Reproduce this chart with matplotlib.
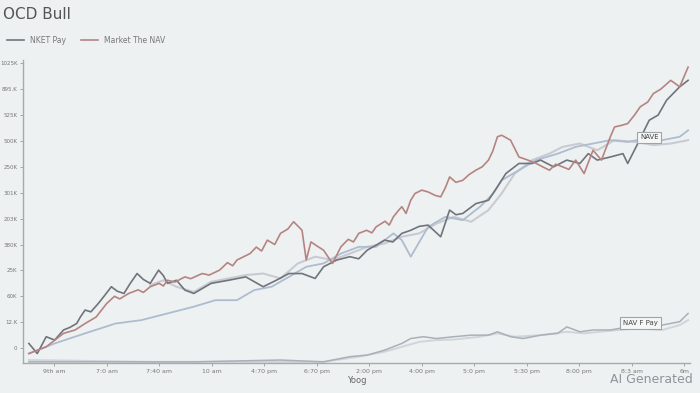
import matplotlib.pyplot as plt

# 축 눈금 라벨
x_tick_labels = ['9th am', '7:0 am', '7:40 am', '10 am', '4:70 pm', '6:70 pm', '2:00 pm',
                 '4:00 pm', '5:0 pm', '5:30 pm', '8:00 pm', '8:3 am', '6m']
y_tick_values = [0, 100, 200, 300, 400, 500, 600, 700, 800, 900, 1000, 1100]
y_tick_labels = ['0', '12.K', '60K', '25K', '380K', '203K', '301K', '250K', '500K', '525K', '895.K', '1025K']

# Market The NAV (red)
market_t = [-0.48, -0.15, 0.18, 0.40, 0.59, 0.80, 1.00, 1.15, 1.25, 1.42, 1.60, 1.70, 1.83, 2.00,
            2.08, 2.16, 2.30, 2.49, 2.60, 2.82, 2.95, 3.15, 3.30, 3.40, 3.48, 3.60, 3.73, 3.85,
            3.95, 4.06, 4.20, 4.31, 4.45, 4.56, 4.72, 4.80, 4.89, 5.00, 5.13, 5.30, 5.46, 5.60,
            5.70, 5.80, 5.95, 6.05, 6.13, 6.30, 6.38, 6.46, 6.55, 6.62, 6.70, 6.79, 6.87, 7.00,
            7.12, 7.25, 7.36, 7.45, 7.53, 7.65, 7.78, 7.90, 8.03, 8.15, 8.27, 8.35, 8.44, 8.52,
            8.69, 8.85, 9.02, 9.18, 9.30, 9.43, 9.55, 9.68, 9.80, 9.93, 10.09, 10.26, 10.42,
            10.59, 10.67, 10.80, 10.92, 11.05, 11.16, 11.30, 11.41, 11.55, 11.74, 11.91, 12.07]
market_v = [-21, 5, 57, 70, 95, 120, 172, 200, 190, 211, 225, 215, 237, 250,
            240, 262, 255, 275, 268, 288, 282, 301, 330, 318, 340, 352, 365, 390,
            375, 417, 400, 443, 460, 488, 455, 340, 410, 395, 378, 327, 391, 420,
            410, 443, 455, 445, 468, 490, 475, 507, 530, 546, 520, 571, 597, 610,
            603, 590, 584, 620, 661, 640, 648, 670, 687, 700, 726, 760, 816, 822,
            803, 738, 726, 713, 700, 687, 710, 700, 690, 726, 674, 764, 726,
            816, 854, 860, 867, 900, 932, 950, 983, 1000, 1034, 1009, 1085]

# NKET Pay (dark grey)
nket_t = [-0.48, -0.32, -0.15, 0.01, 0.18, 0.30, 0.43, 0.50, 0.59, 0.70, 0.84, 0.95, 1.09, 1.20,
          1.33, 1.45, 1.58, 1.70, 1.83, 1.99, 2.08, 2.16, 2.33, 2.49, 2.66, 2.99, 3.32, 3.65,
          3.98, 4.23, 4.47, 4.72, 4.97, 5.13, 5.38, 5.63, 5.80, 5.96, 6.15, 6.29, 6.45, 6.62,
          6.79, 6.95, 7.12, 7.36, 7.53, 7.65, 7.78, 8.03, 8.27, 8.44, 8.60, 8.85, 9.10,
          9.26, 9.51, 9.76, 10.01, 10.17, 10.34, 10.59, 10.83, 10.92, 11.08, 11.33, 11.50,
          11.66, 11.91, 12.07]
nket_v = [18, -21, 44, 31, 70, 80, 95, 120, 147, 140, 172, 200, 237, 220,
          211, 250, 288, 265, 250, 301, 280, 250, 262, 224, 211, 250, 262, 275,
          237, 262, 288, 288, 269, 314, 340, 353, 345, 378, 400, 417, 410, 443,
          455, 470, 475, 430, 533, 515, 520, 558, 571, 623, 674, 713, 713,
          726, 700, 726, 713, 751, 726, 738, 751, 713, 777, 880, 900,
          957, 1009, 1034]

# 연한 파란 선
blue_t = [-0.48, 0.01, 0.59, 1.17, 1.66, 2.16, 2.66, 3.07, 3.48, 3.81, 4.14, 4.47, 4.80, 5.13,
          5.46, 5.80, 6.13, 6.46, 6.62, 6.79, 7.12, 7.45, 7.78, 8.11, 8.36, 8.52, 8.85, 9.18,
          9.59, 9.93, 10.26, 10.59, 10.92, 11.25, 11.58, 11.91, 12.07]
blue_v = [-21, 18, 57, 95, 108, 134, 160, 185, 185, 224, 237, 275, 314, 327,
          365, 391, 391, 443, 417, 353, 468, 507, 494, 546, 597, 648, 687, 726,
          751, 777, 790, 803, 796, 809, 803, 816, 841]

# 연한 회색 선
grey_t = [1.83, 2.08, 2.33, 2.66, 2.99, 3.32, 3.65, 3.98, 4.31, 4.64, 4.97, 5.30, 5.63, 5.96,
          6.29, 6.62, 6.95, 7.28, 7.61, 7.94, 8.27, 8.52, 8.77, 9.10, 9.43, 9.68, 10.01, 10.34,
          10.67, 11.08, 11.41, 11.74, 12.07]
grey_v = [243, 262, 237, 217, 256, 269, 282, 288, 269, 327, 353, 340, 365, 391,
          404, 430, 443, 481, 507, 488, 533, 597, 674, 726, 751, 777, 790, 764,
          803, 796, 784, 790, 803]

# 아래쪽 NAV F Pay 선 두 개
low_a_t = [-0.48, 1.00, 2.66, 4.31, 5.13, 5.63, 5.96, 6.29, 6.62, 6.79, 7.03, 7.28, 7.61, 7.94,
           8.27, 8.44, 8.69, 8.93, 9.26, 9.59, 9.76, 10.01, 10.26, 10.59, 10.92, 11.25, 11.58, 11.91, 12.07]
low_a_v = [-53, -53, -53, -46, -53, -33, -27, -8, 18, 37, 44, 37, 44, 50,
           50, 63, 44, 37, 50, 57, 82, 63, 70, 70, 82, 82, 89, 102, 134]
low_b_t = [-0.48, 1.83, 5.13, 5.80, 6.29, 6.62, 6.95, 7.28, 7.61, 8.11, 8.44, 8.77, 9.26, 9.76,
           10.09, 10.59, 11.08, 11.58, 11.91, 12.07]
low_b_v = [-46, -53, -53, -33, -14, 5, 24, 31, 33, 44, 57, 44, 50, 63,
           57, 67, 76, 70, 89, 108]

bg = '#eef1f1'
fig = plt.figure(figsize=(7, 3.93), dpi=100, facecolor=bg)
ax = fig.add_axes([0.033, 0.076, 0.953, 0.771], facecolor=bg)

# 선 그리기 (연한 선 먼저)
ax.plot(low_b_t, low_b_v, color='#cfd5dc', linewidth=1.4)
ax.plot(low_a_t, low_a_v, color='#aab0b7', linewidth=1.1)
ax.plot(grey_t, grey_v, color='#c8ccd2', linewidth=1.5)
ax.plot(blue_t, blue_v, color='#aebcd0', linewidth=1.3)
ax.plot(nket_t, nket_v, color='#70747b', linewidth=1.2, label='NKET Pay')
ax.plot(market_t, market_v, color='#b58482', linewidth=1.2, label='Market The NAV')

# 라벨 박스
box = dict(boxstyle='square,pad=0.4', facecolor='#f5f7f7', edgecolor='#a0a4a8', linewidth=0.8)
ax.text(11.33, 814, 'NAVE', fontsize=5, color='#444', ha='center', va='center', bbox=box)
ax.text(11.16, 96, 'NAV F Pay', fontsize=5, color='#444', ha='center', va='center', bbox=box)

# 축 설정
ax.set_xlim(-0.59, 12.11)
ax.set_ylim(-58, 1112)
ax.set_xticks(range(len(x_tick_labels)))
ax.set_xticklabels(x_tick_labels, fontsize=4.5, color='#777')
ax.set_yticks(y_tick_values)
ax.set_yticklabels(y_tick_labels, fontsize=4, color='#777')
ax.tick_params(axis='both', length=2, width=0.6, color='#999', pad=2)
ax.set_xlabel('Yoog', fontsize=6, color='#666', labelpad=2)
for side in ['top', 'right']:
    ax.spines[side].set_visible(False)
for side in ['left', 'bottom']:
    ax.spines[side].set_color('#a5aaae')
    ax.spines[side].set_linewidth(1.0)

# 제목, 범례, 워터마크
fig.text(0.004, 0.962, 'OCD Bull', fontsize=11, color='#555', ha='left', va='center')
fig.legend(loc='center left', bbox_to_anchor=(0.0, 0.898), ncol=2, frameon=False,
           fontsize=5.5, handlelength=2.2, columnspacing=2.0, labelcolor='#777')
fig.text(0.99, 0.035, 'AI Generated', fontsize=9, color='#8e9499', ha='right', va='center')

plt.savefig('out.png', dpi=100, facecolor=bg)
